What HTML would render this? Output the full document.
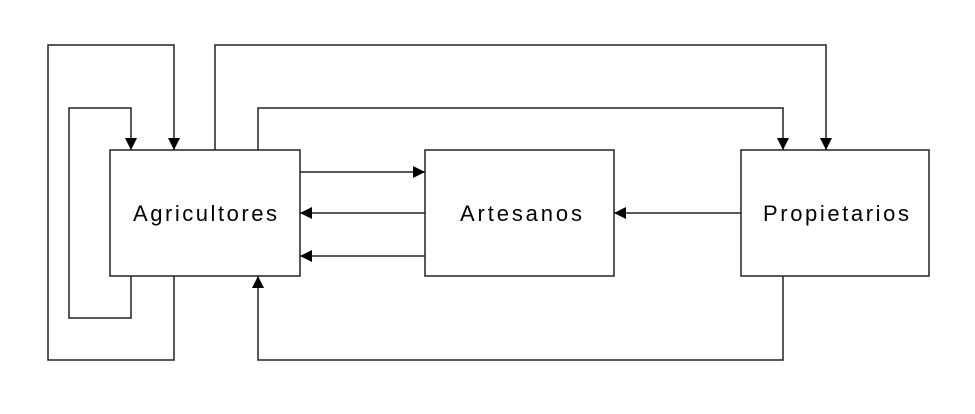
<!DOCTYPE html>
<html><head><meta charset="utf-8"><style>html,body{margin:0;padding:0;background:#fff;}svg{display:block}</style></head>
<body>
<svg width="975" height="414" viewBox="0 0 975 414" xmlns="http://www.w3.org/2000/svg">
<defs>
<marker id="a" viewBox="0 0 10 10" refX="10" refY="5" markerWidth="12" markerHeight="12" markerUnits="userSpaceOnUse" orient="auto">
<path d="M0,0 L10,5 L0,10 z" fill="#000"/></marker>
</defs>
<g fill="none" stroke="#222" stroke-width="1.5">
<rect x="110" y="150" width="190" height="126" fill="#fff"/>
<rect x="425" y="150" width="189" height="126" fill="#fff"/>
<rect x="741" y="150" width="188" height="126" fill="#fff"/>
<polyline points="174,276 174,360 48,360 48,45 174,45 174,150" marker-end="url(#a)"/>
<polyline points="131,276 131,318 69,318 69,108 131,108 131,150" marker-end="url(#a)"/>
<polyline points="215,150 215,45 826,45 826,150" marker-end="url(#a)"/>
<polyline points="258,150 258,108 783,108 783,150" marker-end="url(#a)"/>
<polyline points="783,276 783,360 258,360 258,276" marker-end="url(#a)"/>
<line x1="300" y1="172" x2="425" y2="172" marker-end="url(#a)"/>
<line x1="425" y1="213" x2="300" y2="213" marker-end="url(#a)"/>
<line x1="425" y1="256" x2="300" y2="256" marker-end="url(#a)"/>
<line x1="741" y1="213" x2="614" y2="213" marker-end="url(#a)"/>
</g>
<g font-family="Liberation Sans, sans-serif" font-size="22" fill="#000">
<text x="133" y="221" textLength="144" lengthAdjust="spacing">Agricultores</text>
<text x="460" y="221" textLength="122" lengthAdjust="spacing">Artesanos</text>
<text x="763" y="221" textLength="146" lengthAdjust="spacing">Propietarios</text>
</g>
</svg>
</body></html>
